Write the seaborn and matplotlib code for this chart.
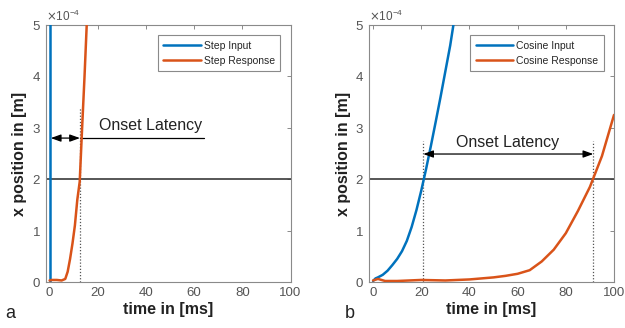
import matplotlib.pyplot as plt
import seaborn as sns
import pandas as pd

# ── Config ────────────────────────────────────────────────────────────────────

sns.set_theme(style="white")
plt.rcParams["font.family"] = ["Liberation Sans", "DejaVu Sans"]

BLUE = "#0072BD"
ORANGE = "#D95319"
FRAME = "#8a8a8a"
TICK_TXT = "#555555"

SCALE = 1e-4  # values below are read in units of 1e-4 m

# ── Data (a) step ─────────────────────────────────────────────────────────────

step_in_t = [0, 0, 100]
step_in_x = [0, 10, 10]

step_out_t = [0, 1, 3, 5, 6.5, 7.5, 8.5, 9.5, 10.5, 11.5, 12.5, 13.5, 14.5, 15.5, 16.5]
step_out_x = [0.03, 0.04, 0.04, 0.03, 0.06, 0.2, 0.45, 0.75, 1.1, 1.6, 1.95, 3.0, 4.0, 5.1, 6.3]

# ── Data (b) cosine ───────────────────────────────────────────────────────────

cos_in_t = [0, 1, 2, 4, 6, 8, 10, 12, 14, 16, 18, 20, 22, 24, 26, 28, 30, 32, 34, 36]
cos_in_x = [0.02, 0.07, 0.09, 0.14, 0.22, 0.33, 0.45, 0.6, 0.8, 1.07, 1.4, 1.78, 2.2,
            2.65, 3.12, 3.6, 4.1, 4.6, 5.2, 5.8]

cos_out_t = [0, 2, 5, 10, 20, 30, 40, 45, 50, 55, 60, 65, 70, 75, 80, 85, 90, 95, 100]
cos_out_x = [0.03, 0.06, 0.02, 0.02, 0.04, 0.03, 0.05, 0.07, 0.09, 0.12, 0.16, 0.23,
             0.4, 0.63, 0.95, 1.38, 1.85, 2.45, 3.25]

THRESHOLD = 2.0

# onset markers (ms)
step_onset = (0.5, 12.6)
cos_onset = (20.8, 91.4)


def frame(t_in, x_in, t_out, x_out, lab_in, lab_out):
    a = pd.DataFrame({"t": t_in, "x": [v * SCALE for v in x_in], "series": lab_in})
    b = pd.DataFrame({"t": t_out, "x": [v * SCALE for v in x_out], "series": lab_out})
    return pd.concat([a, b], ignore_index=True)


def style_axes(ax):
    ax.set_xlim(-1.7, 100)
    ax.set_ylim(0, 5 * SCALE)
    ax.set_xticks([0, 20, 40, 60, 80, 100])
    ax.set_yticks([i * SCALE for i in range(6)])
    ax.ticklabel_format(axis="y", style="sci", scilimits=(0, 0), useMathText=True)
    ax.yaxis.get_offset_text().set_fontsize(8.5)
    ax.yaxis.get_offset_text().set_color(TICK_TXT)
    ax.tick_params(direction="in", length=3, width=0.7, colors=FRAME,
                   labelcolor=TICK_TXT, labelsize=9.5, top=True, right=True)
    for s in ax.spines.values():
        s.set_color(FRAME)
        s.set_linewidth(0.8)
    ax.set_xlabel("time in [ms]", fontsize=11.5, fontweight="bold", labelpad=2, color="#222222")
    ax.set_ylabel("x position in [m]", fontsize=11.5, fontweight="bold", labelpad=3, color="#222222")
    ax.axhline(THRESHOLD * SCALE, color="#3a3a3a", lw=1.2, zorder=1)
    leg = ax.legend(loc="upper right", fontsize=7.5, handlelength=3.6,
                    fancybox=False, edgecolor=FRAME, framealpha=1,
                    borderaxespad=1.0, borderpad=0.5, handletextpad=0.3, labelspacing=0.5)
    leg.get_frame().set_linewidth(0.8)


def arrow(ax, x0, x1, y):
    ax.annotate("", xy=(x1, y * SCALE), xytext=(x0, y * SCALE),
                arrowprops=dict(arrowstyle="<|-|>,head_length=0.5,head_width=0.18",
                                color="black", lw=0.9, shrinkA=0, shrinkB=0))


fig = plt.figure(figsize=(6.25, 3.28), dpi=100)
ax1 = fig.add_axes([0.0728, 0.1402, 0.392, 0.7836])
ax2 = fig.add_axes([0.5904, 0.1402, 0.392, 0.7836])

# ── (a) ───────────────────────────────────────────────────────────────────────

df_a = frame(step_in_t, step_in_x, step_out_t, step_out_x, "Step Input", "Step Response")
sns.lineplot(data=df_a, x="t", y="x", hue="series", palette=[BLUE, ORANGE],
             sort=False, estimator=None, lw=1.8, ax=ax1, zorder=3)
style_axes(ax1)
ax1.plot([step_onset[1]] * 2, [0, 3.4 * SCALE], ls=(0, (1, 1.5)), color="#555555", lw=0.9, zorder=2)
arrow(ax1, step_onset[0], step_onset[1], 2.8)
ax1.plot([step_onset[1], 64], [2.8 * SCALE] * 2, color="black", lw=0.9)
ax1.text(42, 3.05 * SCALE, "Onset Latency", ha="center", va="center", fontsize=11.5, color="#222222")

# ── (b) ───────────────────────────────────────────────────────────────────────

df_b = frame(cos_in_t, cos_in_x, cos_out_t, cos_out_x, "Cosine Input", "Cosine Response")
sns.lineplot(data=df_b, x="t", y="x", hue="series", palette=[BLUE, ORANGE],
             sort=False, estimator=None, lw=1.8, ax=ax2, zorder=3)
style_axes(ax2)
for xo in cos_onset:
    ax2.plot([xo] * 2, [0, 2.75 * SCALE], ls=(0, (1, 1.5)), color="#555555", lw=0.9, zorder=2)
arrow(ax2, cos_onset[0], cos_onset[1], 2.49)
ax2.text(56, 2.72 * SCALE, "Onset Latency", ha="center", va="center", fontsize=11.5, color="#222222")

fig.text(0.008, 0.03, "a", fontsize=13, color="#222222")
fig.text(0.552, 0.03, "b", fontsize=13, color="#222222")

fig.savefig("out.png", dpi=100)
